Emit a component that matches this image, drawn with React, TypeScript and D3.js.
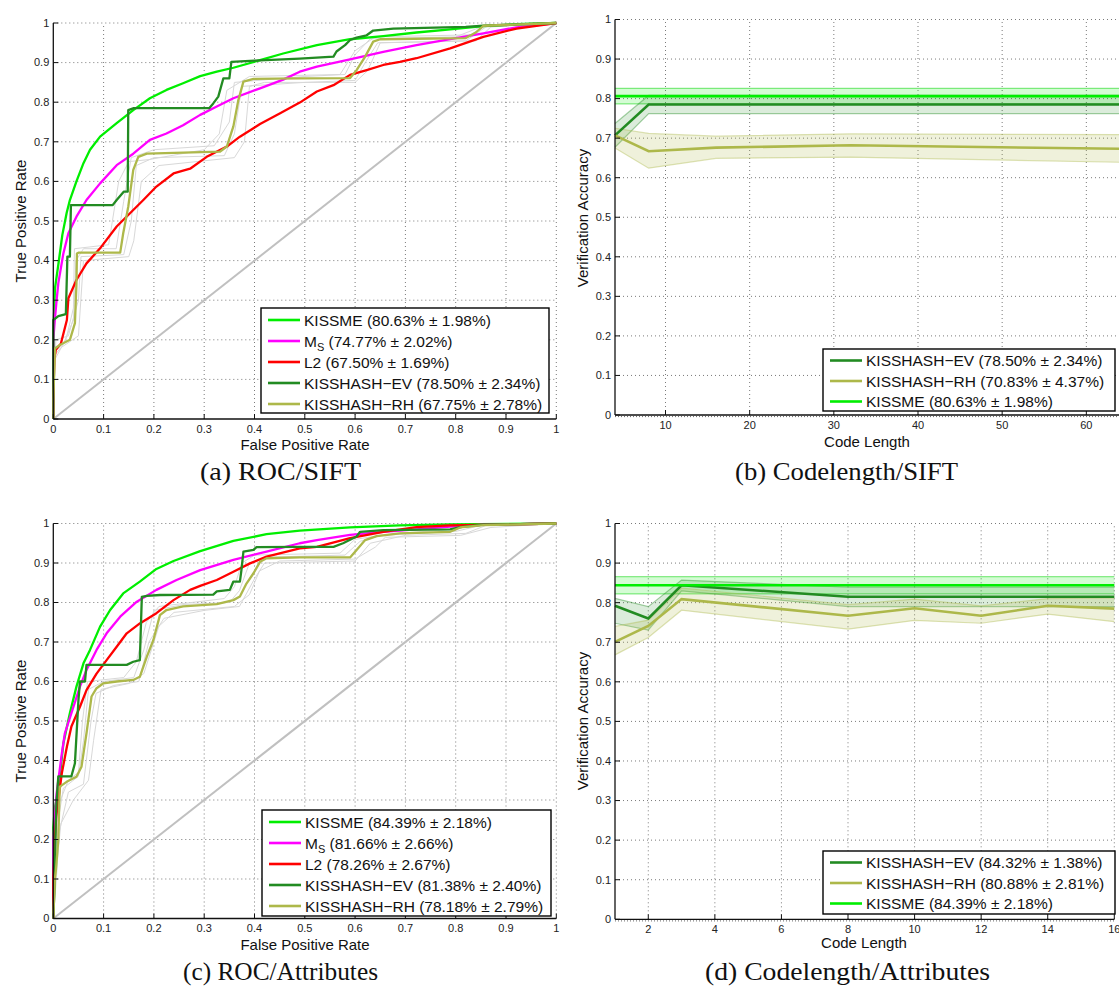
import React from "react";
import * as d3 from "d3";

type Pt = [number, number];

// ---------- tick values ----------
const unitTicks = [0, 0.1, 0.2, 0.3, 0.4, 0.5, 0.6, 0.7, 0.8, 0.9, 1];
const siftCodeTicks = [10, 20, 30, 40, 50, 60];
const attrCodeTicks = [2, 4, 6, 8, 10, 12, 14, 16];

// ---------- (a) ROC / SIFT ----------
const siftKissme: Pt[] = [[0,0],[0,0.22],[0.002,0.28],[0.0033,0.33],[0.01,0.39],[0.018,0.465],[0.0265,0.52],[0.033,0.553],[0.046,0.6],[0.06,0.646],[0.073,0.68],[0.093,0.713],[0.126,0.747],[0.159,0.78],[0.192,0.81],[0.225,0.831],[0.258,0.848],[0.292,0.866],[0.325,0.877],[0.358,0.887],[0.411,0.906],[0.457,0.923],[0.524,0.944],[0.59,0.959],[0.656,0.967],[0.722,0.976],[0.789,0.984],[0.855,0.992],[0.921,0.997],[1,1]];
const siftMs: Pt[] = [[0,0],[0,0.2],[0.003,0.25],[0.0066,0.3],[0.01,0.343],[0.02,0.418],[0.03,0.469],[0.046,0.511],[0.066,0.553],[0.093,0.595],[0.126,0.641],[0.159,0.67],[0.192,0.705],[0.225,0.721],[0.258,0.742],[0.292,0.768],[0.325,0.789],[0.358,0.81],[0.411,0.835],[0.457,0.857],[0.49,0.877],[0.524,0.89],[0.59,0.908],[0.656,0.927],[0.722,0.944],[0.789,0.959],[0.855,0.974],[0.921,0.989],[1,1]];
const siftL2: Pt[] = [[0,0],[0,0.05],[0.002,0.15],[0.005,0.175],[0.015,0.19],[0.027,0.25],[0.03,0.305],[0.046,0.351],[0.066,0.393],[0.093,0.431],[0.126,0.486],[0.152,0.519],[0.179,0.553],[0.205,0.587],[0.239,0.62],[0.272,0.632],[0.305,0.662],[0.345,0.688],[0.371,0.713],[0.411,0.745],[0.451,0.772],[0.49,0.799],[0.524,0.827],[0.557,0.843],[0.59,0.869],[0.623,0.881],[0.656,0.894],[0.689,0.902],[0.722,0.911],[0.789,0.936],[0.855,0.965],[0.921,0.986],[1,1]];
const siftEv: Pt[] = [[0,0],[0,0.25],[0.01,0.26],[0.025,0.265],[0.028,0.41],[0.033,0.41],[0.035,0.54],[0.118,0.54],[0.126,0.553],[0.14,0.574],[0.148,0.574],[0.149,0.78],[0.16,0.785],[0.31,0.785],[0.318,0.797],[0.328,0.814],[0.338,0.86],[0.35,0.86],[0.354,0.902],[0.4,0.905],[0.49,0.91],[0.557,0.915],[0.563,0.928],[0.58,0.944],[0.59,0.957],[0.603,0.963],[0.623,0.969],[0.636,0.981],[0.676,0.986],[0.82,0.99],[0.855,0.993],[1,1]];
const siftRh: Pt[] = [[0,0],[0,0.05],[0.0033,0.178],[0.013,0.187],[0.033,0.2],[0.043,0.242],[0.046,0.34],[0.047,0.418],[0.05,0.42],[0.133,0.42],[0.139,0.469],[0.149,0.536],[0.159,0.629],[0.169,0.662],[0.186,0.67],[0.331,0.675],[0.345,0.688],[0.358,0.739],[0.368,0.806],[0.378,0.852],[0.398,0.859],[0.49,0.86],[0.59,0.861],[0.603,0.881],[0.62,0.915],[0.636,0.953],[0.65,0.959],[0.82,0.962],[0.84,0.976],[0.855,0.993],[1,1]];
const siftRun1: Pt[] = [[0,0],[0.003,0.15],[0.02,0.19],[0.04,0.25],[0.045,0.4],[0.06,0.43],[0.125,0.43],[0.14,0.55],[0.155,0.66],[0.2,0.68],[0.32,0.69],[0.35,0.75],[0.36,0.85],[0.5,0.865],[0.58,0.87],[0.6,0.92],[0.63,0.96],[0.8,0.965],[0.85,0.99],[1,1]];
const siftRun2: Pt[] = [[0,0],[0.005,0.2],[0.03,0.21],[0.05,0.3],[0.055,0.41],[0.14,0.415],[0.155,0.5],[0.165,0.64],[0.2,0.66],[0.34,0.665],[0.36,0.72],[0.375,0.84],[0.5,0.85],[0.6,0.855],[0.62,0.9],[0.645,0.95],[0.82,0.955],[0.86,0.99],[1,1]];
const siftRun3: Pt[] = [[0,0],[0.004,0.17],[0.025,0.2],[0.04,0.28],[0.042,0.43],[0.11,0.44],[0.13,0.6],[0.15,0.65],[0.19,0.655],[0.3,0.68],[0.33,0.72],[0.345,0.83],[0.39,0.865],[0.57,0.87],[0.6,0.93],[0.64,0.965],[0.83,0.97],[0.86,0.995],[1,1]];
const siftRun4: Pt[] = [[0,0],[0.002,0.16],[0.015,0.18],[0.05,0.21],[0.06,0.4],[0.15,0.41],[0.16,0.45],[0.175,0.6],[0.21,0.64],[0.36,0.66],[0.38,0.7],[0.39,0.84],[0.42,0.85],[0.6,0.85],[0.625,0.88],[0.65,0.95],[0.84,0.955],[0.87,0.99],[1,1]];

// ---------- (c) ROC / Attributes ----------
const attrKissme: Pt[] = [[0,0],[0,0.23],[0.003,0.28],[0.01,0.325],[0.02,0.443],[0.033,0.52],[0.046,0.587],[0.06,0.646],[0.073,0.68],[0.093,0.739],[0.113,0.781],[0.139,0.823],[0.172,0.853],[0.205,0.885],[0.239,0.905],[0.292,0.93],[0.358,0.956],[0.424,0.973],[0.49,0.982],[0.59,0.99],[0.689,0.995],[0.789,0.998],[1,1]];
const attrMs: Pt[] = [[0,0],[0,0.2],[0.004,0.27],[0.0066,0.317],[0.017,0.418],[0.023,0.469],[0.036,0.52],[0.053,0.587],[0.066,0.629],[0.086,0.68],[0.106,0.722],[0.133,0.764],[0.166,0.802],[0.205,0.832],[0.245,0.857],[0.292,0.882],[0.358,0.908],[0.424,0.929],[0.49,0.95],[0.524,0.958],[0.59,0.971],[0.656,0.979],[0.722,0.985],[0.789,0.992],[0.855,0.997],[1,1]];
const attrL2: Pt[] = [[0,0],[0,0.1],[0.003,0.2],[0.006,0.26],[0.01,0.3],[0.017,0.368],[0.027,0.435],[0.036,0.486],[0.053,0.536],[0.066,0.578],[0.086,0.62],[0.106,0.654],[0.126,0.688],[0.146,0.722],[0.172,0.747],[0.205,0.773],[0.239,0.806],[0.272,0.832],[0.292,0.842],[0.325,0.857],[0.358,0.878],[0.391,0.899],[0.424,0.916],[0.49,0.937],[0.524,0.941],[0.59,0.963],[0.656,0.979],[0.722,0.991],[0.789,0.995],[1,1]];
const attrEv: Pt[] = [[0,0],[0.003,0.1],[0.005,0.25],[0.0066,0.3],[0.01,0.36],[0.036,0.36],[0.043,0.393],[0.05,0.553],[0.053,0.6],[0.063,0.6],[0.066,0.642],[0.146,0.642],[0.159,0.65],[0.172,0.654],[0.176,0.814],[0.186,0.817],[0.212,0.819],[0.318,0.82],[0.325,0.828],[0.351,0.832],[0.358,0.853],[0.371,0.853],[0.374,0.882],[0.378,0.929],[0.398,0.933],[0.404,0.94],[0.49,0.941],[0.557,0.941],[0.576,0.95],[0.603,0.967],[0.61,0.979],[0.656,0.983],[0.789,0.985],[0.809,0.991],[0.855,0.997],[1,1]];
const attrRh: Pt[] = [[0,0],[0.003,0.1],[0.005,0.12],[0.01,0.2],[0.012,0.3],[0.013,0.334],[0.0265,0.346],[0.046,0.359],[0.056,0.384],[0.066,0.469],[0.076,0.562],[0.086,0.583],[0.099,0.595],[0.126,0.6],[0.159,0.604],[0.172,0.612],[0.186,0.663],[0.199,0.705],[0.212,0.768],[0.225,0.781],[0.258,0.79],[0.325,0.796],[0.358,0.806],[0.371,0.815],[0.384,0.848],[0.398,0.874],[0.411,0.903],[0.424,0.912],[0.49,0.914],[0.59,0.914],[0.603,0.933],[0.62,0.958],[0.643,0.968],[0.689,0.975],[0.789,0.979],[0.809,0.99],[0.855,0.996],[1,1]];
const attrRun1: Pt[] = [[0,0],[0.004,0.12],[0.01,0.25],[0.02,0.33],[0.05,0.36],[0.06,0.45],[0.07,0.58],[0.1,0.6],[0.16,0.61],[0.18,0.68],[0.2,0.78],[0.26,0.795],[0.35,0.8],[0.37,0.83],[0.39,0.9],[0.43,0.915],[0.58,0.92],[0.61,0.955],[0.65,0.97],[0.8,0.98],[0.85,0.995],[1,1]];
const attrRun2: Pt[] = [[0,0],[0.006,0.1],[0.012,0.22],[0.03,0.32],[0.06,0.34],[0.075,0.5],[0.085,0.57],[0.12,0.59],[0.17,0.6],[0.19,0.7],[0.22,0.76],[0.3,0.78],[0.37,0.79],[0.4,0.86],[0.42,0.9],[0.6,0.905],[0.63,0.95],[0.7,0.97],[0.82,0.975],[0.86,0.995],[1,1]];
const attrRun3: Pt[] = [[0,0],[0.003,0.13],[0.008,0.28],[0.03,0.35],[0.05,0.37],[0.058,0.5],[0.068,0.6],[0.14,0.61],[0.165,0.65],[0.185,0.75],[0.21,0.79],[0.34,0.81],[0.36,0.84],[0.375,0.9],[0.4,0.92],[0.57,0.925],[0.6,0.96],[0.68,0.975],[0.8,0.985],[0.84,1],[1,1]];
const attrRun4: Pt[] = [[0,0],[0.005,0.11],[0.015,0.24],[0.04,0.3],[0.07,0.35],[0.08,0.45],[0.095,0.58],[0.15,0.595],[0.18,0.62],[0.21,0.74],[0.24,0.775],[0.36,0.79],[0.39,0.82],[0.41,0.88],[0.45,0.905],[0.6,0.91],[0.64,0.94],[0.66,0.965],[0.81,0.97],[0.87,0.99],[1,1]];

// ---------- (b) Codelength / SIFT ----------
const siftCodeLength = [4, 8, 16, 32, 64];
const siftEvMean = [0.707, 0.785, 0.785, 0.785, 0.785];
const siftEvLow = [0.677, 0.762, 0.762, 0.762, 0.762];
const siftEvHigh = [0.737, 0.808, 0.808, 0.808, 0.808];
const siftRhMean = [0.707, 0.667, 0.676, 0.682, 0.673];
const siftRhLow = [0.675, 0.624, 0.649, 0.652, 0.639];
const siftRhHigh = [0.725, 0.712, 0.705, 0.711, 0.709];
const siftKissmeMean = 0.8063;
const siftKissmeStd = 0.0198;

// ---------- (d) Codelength / Attributes ----------
const attrCodeLength = [1, 2, 3, 8, 10, 12, 14, 16];
const attrEvMean = [0.792, 0.76, 0.844, 0.815, 0.815, 0.815, 0.815, 0.815];
const attrEvLow = [0.748, 0.731, 0.83, 0.79, 0.79, 0.79, 0.79, 0.79];
const attrEvHigh = [0.811, 0.79, 0.857, 0.839, 0.839, 0.839, 0.839, 0.839];
const attrRhMean = [0.701, 0.741, 0.809, 0.767, 0.786, 0.767, 0.792, 0.785];
const attrRhLow = [0.668, 0.712, 0.781, 0.733, 0.755, 0.748, 0.771, 0.752];
const attrRhHigh = [0.74, 0.756, 0.837, 0.795, 0.809, 0.792, 0.81, 0.812];
const attrKissmeMean = 0.8439;
const attrKissmeStd = 0.0218;

// ---------- legend labels ----------
const siftRocLegend = [
  { key: "kissme", main: "KISSME (80.63% ± 1.98%)" },
  { key: "ms", main: "M", sub: "S", rest: " (74.77% ± 2.02%)" },
  { key: "l2", main: "L2 (67.50% ± 1.69%)" },
  { key: "ev", main: "KISSHASH−EV (78.50% ± 2.34%)" },
  { key: "rh", main: "KISSHASH−RH (67.75% ± 2.78%)" },
];
const attrRocLegend = [
  { key: "kissme", main: "KISSME (84.39% ± 2.18%)" },
  { key: "ms", main: "M", sub: "S", rest: " (81.66% ± 2.66%)" },
  { key: "l2", main: "L2 (78.26% ± 2.67%)" },
  { key: "ev", main: "KISSHASH−EV (81.38% ± 2.40%)" },
  { key: "rh", main: "KISSHASH−RH (78.18% ± 2.79%)" },
];
const siftCodeLegend = [
  { key: "ev", main: "KISSHASH−EV (78.50% ± 2.34%)" },
  { key: "rh", main: "KISSHASH−RH (70.83% ± 4.37%)" },
  { key: "kissme", main: "KISSME (80.63% ± 1.98%)" },
];
const attrCodeLegend = [
  { key: "ev", main: "KISSHASH−EV (84.32% ± 1.38%)" },
  { key: "rh", main: "KISSHASH−RH (80.88% ± 2.81%)" },
  { key: "kissme", main: "KISSME (84.39% ± 2.18%)" },
];

// ---------- styles ----------
const SANS = "'Liberation Sans', Arial, Helvetica, sans-serif";
const SERIF = "'Liberation Serif', 'Times New Roman', serif";
const COL: Record<string, string> = {
  kissme: "#00ee00",
  ms: "#ff00ff",
  l2: "#ff0000",
  ev: "#228b22",
  rh: "#adb84a",
};
const BAND: Record<string, { fill: string; stroke: string }> = {
  kissme: { fill: "rgba(0,235,0,0.17)", stroke: "rgba(0,210,0,0.45)" },
  ev: { fill: "rgba(34,139,34,0.16)", stroke: "rgba(34,139,34,0.4)" },
  rh: { fill: "rgba(173,184,74,0.2)", stroke: "rgba(173,184,74,0.4)" },
};
const fmt = (v: number) => String(+v.toFixed(1));

type Frame = { x0: number; x1: number; yb: number; yt: number };

function Axes(props: {
  xs: d3.ScaleLinear<number, number>;
  ys: d3.ScaleLinear<number, number>;
  f: Frame;
  xTicks: number[];
  yTicks: number[];
}) {
  const { xs, ys, f, xTicks, yTicks } = props;
  const grid = "#7a7a7a";
  return (
    <g>
      {xTicks.filter((t) => Math.abs(xs(t) - f.x0) > 1).map((t) => (
        <line key={"gx" + t} x1={xs(t)} x2={xs(t)} y1={f.yb} y2={f.yt} stroke={grid} strokeWidth={1} strokeDasharray="1 3" />
      ))}
      {yTicks.filter((t) => t > 0).map((t) => (
        <line key={"gy" + t} x1={f.x0} x2={f.x1} y1={ys(t)} y2={ys(t)} stroke={grid} strokeWidth={1} strokeDasharray="1 3" />
      ))}
    </g>
  );
}

function AxisLines(props: {
  xs: d3.ScaleLinear<number, number>;
  ys: d3.ScaleLinear<number, number>;
  f: Frame;
  xTicks: number[];
  yTicks: number[];
  minorBottom?: boolean;
}) {
  const { xs, ys, f, xTicks, yTicks, minorBottom } = props;
  return (
    <g fontFamily={SANS} fontSize={11} fill="#222">
      <line x1={f.x0} x2={f.x0} y1={f.yb} y2={f.yt} stroke="#111" strokeWidth={1.3} />
      <line x1={f.x0} x2={f.x1} y1={f.yb} y2={f.yb} stroke="#111" strokeWidth={1.3} />
      {minorBottom && (
        <line x1={f.x0} x2={f.x1} y1={f.yb + 1.6} y2={f.yb + 1.6} stroke="#666" strokeWidth={1} strokeDasharray="1 2" />
      )}
      {xTicks.map((t) => (
        <g key={"tx" + t}>
          <line x1={xs(t)} x2={xs(t)} y1={f.yb} y2={f.yb - 5} stroke="#111" strokeWidth={1} />
          <text x={xs(t)} y={f.yb + 13.5} textAnchor="middle">{fmt(t)}</text>
        </g>
      ))}
      {yTicks.map((t) => (
        <g key={"ty" + t}>
          <line x1={f.x0} x2={f.x0 + 5} y1={ys(t)} y2={ys(t)} stroke="#111" strokeWidth={1} />
          <text x={f.x0 - 4} y={ys(t)} dy="0.35em" textAnchor="end">{fmt(t)}</text>
        </g>
      ))}
    </g>
  );
}

type LegendItem = { key: string; main: string; sub?: string; rest?: string };

function Legend(props: { x: number; y: number; w: number; h: number; items: LegendItem[]; y0: number; step: number }) {
  const { x, y, w, h, items, y0, step } = props;
  return (
    <g fontFamily={SANS} fontSize={15.5} fill="#111">
      <rect x={x} y={y} width={w} height={h} fill="#fff" stroke="#000" strokeWidth={1.4} />
      {items.map((it, i) => {
        const yy = y0 + i * step;
        return (
          <g key={it.key}>
            <line x1={x + 7} x2={x + 39} y1={yy} y2={yy} stroke={COL[it.key]} strokeWidth={2.6} />
            <text x={x + 43} y={yy} dy="0.36em">
              {it.main}
              {it.sub && <tspan fontSize={11} dy={4}>{it.sub}</tspan>}
              {it.rest && <tspan dy={-4}>{it.rest}</tspan>}
            </text>
          </g>
        );
      })}
    </g>
  );
}

function RocPanel(props: {
  f: Frame;
  curves: { key: string; data: Pt[] }[];
  runs: Pt[][];
  legend: LegendItem[];
  lx: number; ly: number; lw: number; lh: number;
}) {
  const { f, curves, runs, legend, lx, ly, lw, lh } = props;
  const xs = d3.scaleLinear().domain([0, 1]).range([f.x0, f.x1]);
  const ys = d3.scaleLinear().domain([0, 1]).range([f.yb, f.yt]);
  const gen = d3.line<Pt>().x((d) => xs(d[0])).y((d) => ys(d[1]));
  return (
    <g>
      <Axes xs={xs} ys={ys} f={f} xTicks={unitTicks} yTicks={unitTicks} />
      <path d={gen([[0, 0], [1, 1]]) || ""} stroke="#c0c0c0" strokeWidth={2} fill="none" />
      {runs.map((r, i) => (
        <path key={"run" + i} d={gen(r) || ""} stroke="#d8d8d8" strokeWidth={1} fill="none" />
      ))}
      {curves.map((c) => (
        <path key={c.key} d={gen(c.data) || ""} stroke={COL[c.key]} strokeWidth={2.3} fill="none" strokeLinejoin="round" />
      ))}
      <AxisLines xs={xs} ys={ys} f={f} xTicks={unitTicks} yTicks={unitTicks} />
      <Legend x={lx} y={ly} w={lw} h={lh} items={legend} y0={ly + 12} step={21} />
    </g>
  );
}

function CodePanel(props: {
  f: Frame;
  domain: [number, number];
  xTicks: number[];
  xv: number[];
  ev: [number[], number[], number[]];
  rh: [number[], number[], number[]];
  kMean: number;
  kStd: number;
  legend: LegendItem[];
  lx: number; ly: number; lw: number; lh: number;
}) {
  const { f, domain, xTicks, xv, ev, rh, kMean, kStd, legend, lx, ly, lw, lh } = props;
  const xs = d3.scaleLinear().domain(domain).range([f.x0, f.x1]);
  const ys = d3.scaleLinear().domain([0, 1]).range([f.yb, f.yt]);
  const gen = d3.line<Pt>().x((d) => xs(d[0])).y((d) => ys(d[1]));
  type B = { x: number; lo: number; hi: number };
  const area = d3.area<B>().x((d) => xs(d.x)).y0((d) => ys(d.lo)).y1((d) => ys(d.hi));
  const kBand: B[] = [{ x: domain[0], lo: kMean - kStd, hi: kMean + kStd }, { x: domain[1], lo: kMean - kStd, hi: kMean + kStd }];
  const evBand: B[] = xv.map((x, i) => ({ x, lo: ev[1][i], hi: ev[2][i] }));
  const rhBand: B[] = xv.map((x, i) => ({ x, lo: rh[1][i], hi: rh[2][i] }));
  const bands: [string, B[]][] = [["kissme", kBand], ["ev", evBand], ["rh", rhBand]];
  return (
    <g>
      <Axes xs={xs} ys={ys} f={f} xTicks={xTicks} yTicks={unitTicks} />
      {bands.map(([k, b]) => (
        <g key={"band" + k}>
          <path d={area(b) || ""} fill={BAND[k].fill} stroke="none" />
          <path d={gen(b.map((d) => [d.x, d.hi] as Pt)) || ""} fill="none" stroke={BAND[k].stroke} strokeWidth={1.2} />
          <path d={gen(b.map((d) => [d.x, d.lo] as Pt)) || ""} fill="none" stroke={BAND[k].stroke} strokeWidth={1.2} />
        </g>
      ))}
      <path d={gen(xv.map((x, i) => [x, ev[0][i]] as Pt)) || ""} stroke={COL.ev} strokeWidth={2.6} fill="none" />
      <path d={gen(xv.map((x, i) => [x, rh[0][i]] as Pt)) || ""} stroke={COL.rh} strokeWidth={2.6} fill="none" />
      <path d={gen([[domain[0], kMean], [domain[1], kMean]]) || ""} stroke={COL.kissme} strokeWidth={2.6} fill="none" />
      <AxisLines xs={xs} ys={ys} f={f} xTicks={xTicks} yTicks={unitTicks} minorBottom />
      <Legend x={lx} y={ly} w={lw} h={lh} items={legend} y0={ly + 11.5} step={20.5} />
    </g>
  );
}

function Label(props: { x: number; y: number; text: string; rotate?: boolean }) {
  const { x, y, text, rotate } = props;
  return (
    <text
      transform={`translate(${x},${y})${rotate ? " rotate(-90)" : ""}`}
      dy="0.35em"
      textAnchor="middle"
      fontFamily={SANS}
      fontSize={15}
      fill="#111"
    >
      {text}
    </text>
  );
}

function Caption(props: { x: number; y: number; w: number; text: string }) {
  return (
    <text
      x={props.x - props.w / 2}
      y={props.y}
      textLength={props.w}
      lengthAdjust="spacingAndGlyphs"
      fontFamily={SERIF}
      fontSize={25}
      fill="#111"
    >
      {props.text}
    </text>
  );
}

export default function App() {
  const fA: Frame = { x0: 53.3, x1: 556.3, yb: 419, yt: 23 };
  const fC: Frame = { x0: 53.3, x1: 556.3, yb: 918.5, yt: 523.5 };
  const fB: Frame = { x0: 615, x1: 1120, yb: 415, yt: 19.5 };
  const fD: Frame = { x0: 615, x1: 1114.3, yb: 919.3, yt: 523.5 };
  return (
    <svg
      width={1119}
      height={988}
      viewBox="0 0 1119 988"
      style={{ position: "absolute", left: 0, top: 0, background: "#fff" }}
    >
      <rect x={0} y={0} width={1119} height={988} fill="#fff" />
      <RocPanel
        f={fA}
        curves={[
          { key: "kissme", data: siftKissme },
          { key: "ms", data: siftMs },
          { key: "l2", data: siftL2 },
          { key: "ev", data: siftEv },
          { key: "rh", data: siftRh },
        ]}
        runs={[siftRun1, siftRun2, siftRun3, siftRun4]}
        legend={siftRocLegend}
        lx={261} ly={308} lw={288} lh={105}
      />
      <RocPanel
        f={fC}
        curves={[
          { key: "kissme", data: attrKissme },
          { key: "ms", data: attrMs },
          { key: "l2", data: attrL2 },
          { key: "ev", data: attrEv },
          { key: "rh", data: attrRh },
        ]}
        runs={[attrRun1, attrRun2, attrRun3, attrRun4]}
        legend={attrRocLegend}
        lx={262} ly={810} lw={289} lh={106}
      />
      <CodePanel
        f={fB}
        domain={[4, 64]}
        xTicks={siftCodeTicks}
        xv={siftCodeLength}
        ev={[siftEvMean, siftEvLow, siftEvHigh]}
        rh={[siftRhMean, siftRhLow, siftRhHigh]}
        kMean={siftKissmeMean}
        kStd={siftKissmeStd}
        legend={siftCodeLegend}
        lx={823} ly={349} lw={292} lh={62}
      />
      <CodePanel
        f={fD}
        domain={[1, 16]}
        xTicks={attrCodeTicks}
        xv={attrCodeLength}
        ev={[attrEvMean, attrEvLow, attrEvHigh]}
        rh={[attrRhMean, attrRhLow, attrRhHigh]}
        kMean={attrKissmeMean}
        kStd={attrKissmeStd}
        legend={attrCodeLegend}
        lx={823} ly={851} lw={292} lh={63}
      />
      <Label x={21} y={221} text="True Positive Rate" rotate />
      <Label x={21} y={721} text="True Positive Rate" rotate />
      <Label x={583} y={218} text="Verification Accuracy" rotate />
      <Label x={583} y={721} text="Verification Accuracy" rotate />
      <Label x={305} y={445} text="False Positive Rate" />
      <Label x={305} y={945} text="False Positive Rate" />
      <Label x={867} y={442} text="Code Length" />
      <Label x={864} y={943} text="Code Length" />
      <Caption x={280.5} y={480} w={161} text="(a) ROC/SIFT" />
      <Caption x={846.5} y={480} w={223} text="(b) Codelength/SIFT" />
      <Caption x={280.5} y={980} w={195} text="(c) ROC/Attributes" />
      <Caption x={847.5} y={980} w={285} text="(d) Codelength/Attributes" />
    </svg>
  );
}
